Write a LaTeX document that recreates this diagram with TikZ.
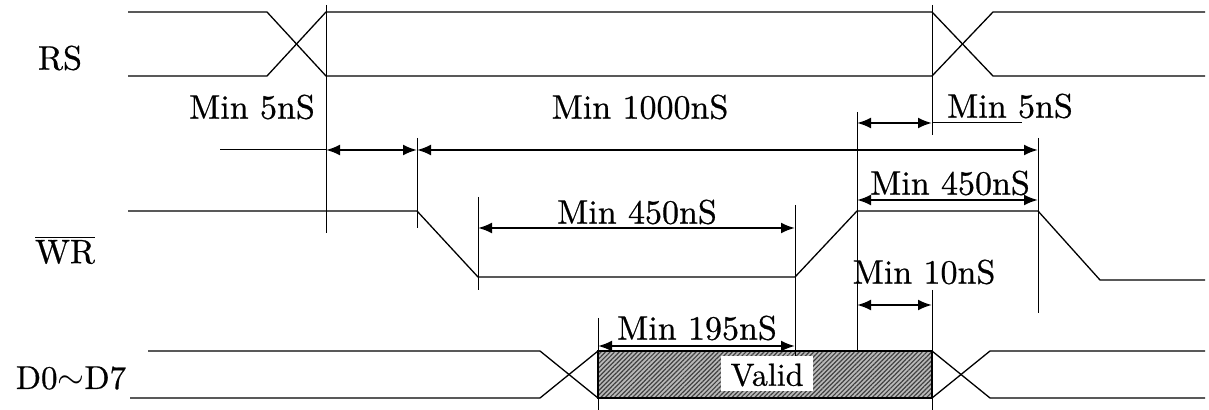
\documentclass[tikz,border=0pt]{standalone}
\usepackage{fontspec}
\newfontfamily\lmheavy{lmroman10-regular.otf}[FakeBold=0.6]
\usetikzlibrary{arrows.meta,patterns.meta}
\begin{document}
\begin{tikzpicture}[x=0.5pt,y=-0.5pt,
  sig/.style={line width=0.65pt},
  guide/.style={line width=0.5pt},
  dim/.style={line width=1.1pt,{Latex[length=7pt,width=5.5pt]}-{Latex[length=7pt,width=5.5pt]}},
  lbl/.style={font=\lmheavy\fontsize{17}{20}\selectfont, inner sep=0pt}]
\useasboundingbox (0,0) rectangle (1209,410);

% ---------- RS ----------
\draw[sig] (128,12) -- (267,12) -- (326,76) -- (932,76) -- (993,12) -- (1205,12);
\draw[sig] (128,76) -- (267,76) -- (326,12) -- (932,12) -- (993,76) -- (1205,76);
\node[lbl] (rs) at (60,58) {RS};

% ---------- WR ----------
\draw[sig] (128,211) -- (417,211) -- (478,277) -- (795,277) -- (857,211) -- (1038,211) -- (1100,280) -- (1205,280);
\node[lbl] (wr) at (65,250) {$\overline{\mbox{WR}}$};

% ---------- D0~D7 ----------
\draw[sig] (148,351) -- (540,351) -- (598,398);
\draw[sig] (130,398) -- (540,398) -- (598,351);
\draw[sig] (932,351) -- (990,398) -- (1205,398);
\draw[sig] (932,398) -- (990,351) -- (1205,351);
\fill[gray!55] (598,351) rectangle (932,398);
\fill[pattern={Lines[angle=45,distance=1.6pt,line width=0.6pt]}, pattern color=black!75] (598,351) rectangle (932,398);
\draw[sig] (598,351) rectangle (932,398);
\fill[white] (721,356) rectangle (813,391);
\node[lbl, font=\lmheavy\fontsize{16}{18}\selectfont] (valid) at (767,375) {Valid};
\node[lbl, font=\lmheavy\fontsize{16.5}{19}\selectfont] (dd) at (71,378) {D0$\sim$D7};

% ---------- guide lines ----------
\coordinate (g1t) at (326,5);   \coordinate (g1b) at (326,233);
\coordinate (g2t) at (417,138); \coordinate (g2b) at (417,228);
\coordinate (g3t) at (478,197); \coordinate (g3b) at (478,290);
\coordinate (g4t) at (795,205); \coordinate (g4b) at (795,356);
\coordinate (g5t) at (857,112); \coordinate (g5b) at (857,351);
\coordinate (g6t) at (932,5);   \coordinate (g6b) at (932,135);
\coordinate (g7t) at (932,290); \coordinate (g7b) at (932,410);
\coordinate (g8t) at (1038,138);\coordinate (g8b) at (1038,313);
\coordinate (g9t) at (598,318); \coordinate (g9b) at (598,410);
\foreach \a in {1,...,9} \draw[guide] (g\a t) -- (g\a b);

% ---------- dimensions ----------
\coordinate (r0) at (220,150);
\coordinate (r1) at (326,150);
\coordinate (r2) at (417,150);
\coordinate (r3) at (1038,150);
\draw[guide] (r0) -- (r1);
\draw[dim] (r1) -- (r2);
\draw[dim] (r2) -- (r3);
\node[lbl] (t5a) at (252,107) {Min 5nS};
\node[lbl] (t1000) at (640,107) {Min 1000nS};

\coordinate (s1) at (857,123);
\coordinate (s2) at (932,123);
\coordinate (s3) at (1022,123);
\draw[dim] (s1) -- (s2);
\draw[guide] (s2) -- (s3);
\node[lbl] (t5b) at (1010,106) {Min 5nS};

\coordinate (h1) at (857,200);
\coordinate (h2) at (1038,200);
\draw[dim] (h1) -- (h2);
\node[lbl] (t450b) at (950,183) {Min 450nS};

\coordinate (l1) at (478,228);
\coordinate (l2) at (795,228);
\draw[dim] (l1) -- (l2);
\node[lbl] (t450a) at (637,212) {Min 450nS};

\coordinate (m1) at (857,305);
\coordinate (m2) at (932,305);
\draw[dim] (m1) -- (m2);
\node[lbl] (t10) at (924,272) {Min 10nS};

\coordinate (n1) at (598,346);
\coordinate (n2) at (795,346);
\draw[dim] (n1) -- (n2);
\node[lbl] (t195) at (697,328) {Min 195nS};
\end{tikzpicture}
\end{document}
